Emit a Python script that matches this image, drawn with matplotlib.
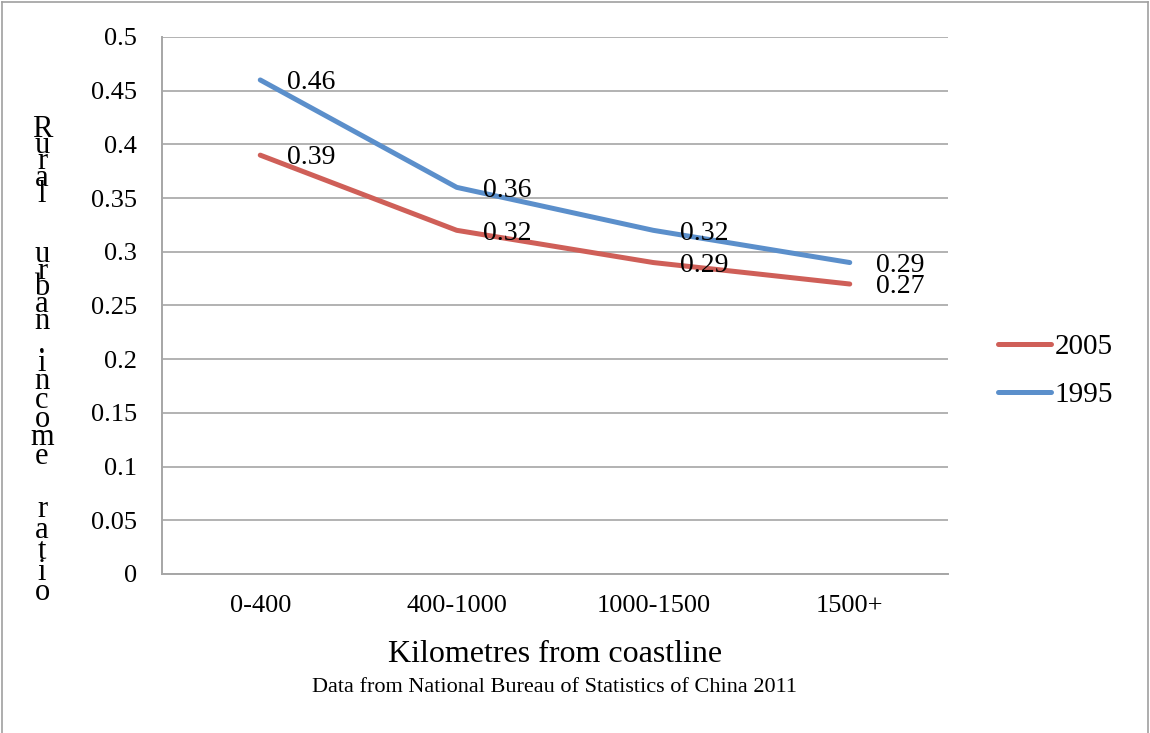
import matplotlib.pyplot as plt
from matplotlib.lines import Line2D

# data
categories = ['0-400', '400-1000', '1000-1500', '1500+']
ratio_2005 = [0.39, 0.32, 0.29, 0.27]
ratio_1995 = [0.46, 0.36, 0.32, 0.29]
yticks = [0, 0.05, 0.1, 0.15, 0.2, 0.25, 0.3, 0.35, 0.4, 0.45, 0.5]
ytick_labels = ['0', '0.05', '0.1', '0.15', '0.2', '0.25', '0.3', '0.35', '0.4', '0.45', '0.5']

plt.rcParams['font.family'] = ['Liberation Serif', 'DejaVu Serif']

W, H = 1150, 733
fig = plt.figure(figsize=(W / 100, H / 100), dpi=100)
ax = fig.add_axes([162 / W, 1 - 574 / H, (948 - 162) / W, (574 - 37) / H])

red = '#CF5F58'
blue = '#5B8FCB'
grid_col = '#A6A6A6'

x = list(range(len(categories)))
ax.plot(x, ratio_2005, color=red, lw=3.6, solid_capstyle='round', label='2005')
ax.plot(x, ratio_1995, color=blue, lw=3.6, solid_capstyle='round', label='1995')

# data labels
for xi, v in zip(x, ratio_2005):
    ax.annotate(f'{v:.2f}', (xi, v), xytext=(19, -2), textcoords='offset points',
                ha='left', va='center', fontsize=20)
for xi, v in zip(x, ratio_1995):
    ax.annotate(f'{v:.2f}', (xi, v), xytext=(19, -2), textcoords='offset points',
                ha='left', va='center', fontsize=20)

ax.set_xlim(-0.5, 3.5)
ax.set_ylim(0, 0.5)
ax.set_xticks(x)
ax.set_xticklabels(categories)
ax.set_yticks(yticks)
ax.set_yticklabels(ytick_labels)
ax.tick_params(length=0, labelsize=19)
ax.tick_params(axis='y', pad=18)
ax.tick_params(axis='x', pad=15)
ax.yaxis.grid(True, color=grid_col, lw=1.2)
ax.set_axisbelow(True)
for s in ['top', 'right']:
    ax.spines[s].set_visible(False)
for s in ['left', 'bottom']:
    ax.spines[s].set_color(grid_col)
    ax.spines[s].set_linewidth(1.4)

# legend
handles, labels = ax.get_legend_handles_labels()
fig.legend(handles, labels, loc='center left', bbox_to_anchor=(998 / W, 1 - 371 / H),
           frameon=False, fontsize=21, handlelength=1.8, handletextpad=0.15,
           labelspacing=0.75, borderpad=0, borderaxespad=0)

# stacked y label
words = [('Rural', 115, 0.42), ('urban', 240, 0.44), ('.income', 330, 0.53), ('ratio', 495, 0.63)]
for w, top, ls in words:
    fig.text(42 / W, 1 - top / H, '\n'.join(w), ha='center', va='top',
             fontsize=22, linespacing=ls, multialignment='center')

fig.text(555 / W, 1 - 655 / H, 'Kilometres from coastline', ha='center', va='center', fontsize=23)
fig.text(555 / W, 1 - 687 / H, 'Data from National Bureau of Statistics of China 2011',
         ha='center', va='center', fontsize=16)

# border around the chart
fig.add_artist(Line2D([2 / W, 2 / W], [0, 1 - 2 / H], color='#A0A0A0', lw=1.2))
fig.add_artist(Line2D([2 / W, 1148 / W], [1 - 2 / H, 1 - 2 / H], color='#A0A0A0', lw=1.2))
fig.add_artist(Line2D([1148 / W, 1148 / W], [0, 1 - 2 / H], color='#A0A0A0', lw=1.2))

fig.savefig('out.png', dpi=100)
